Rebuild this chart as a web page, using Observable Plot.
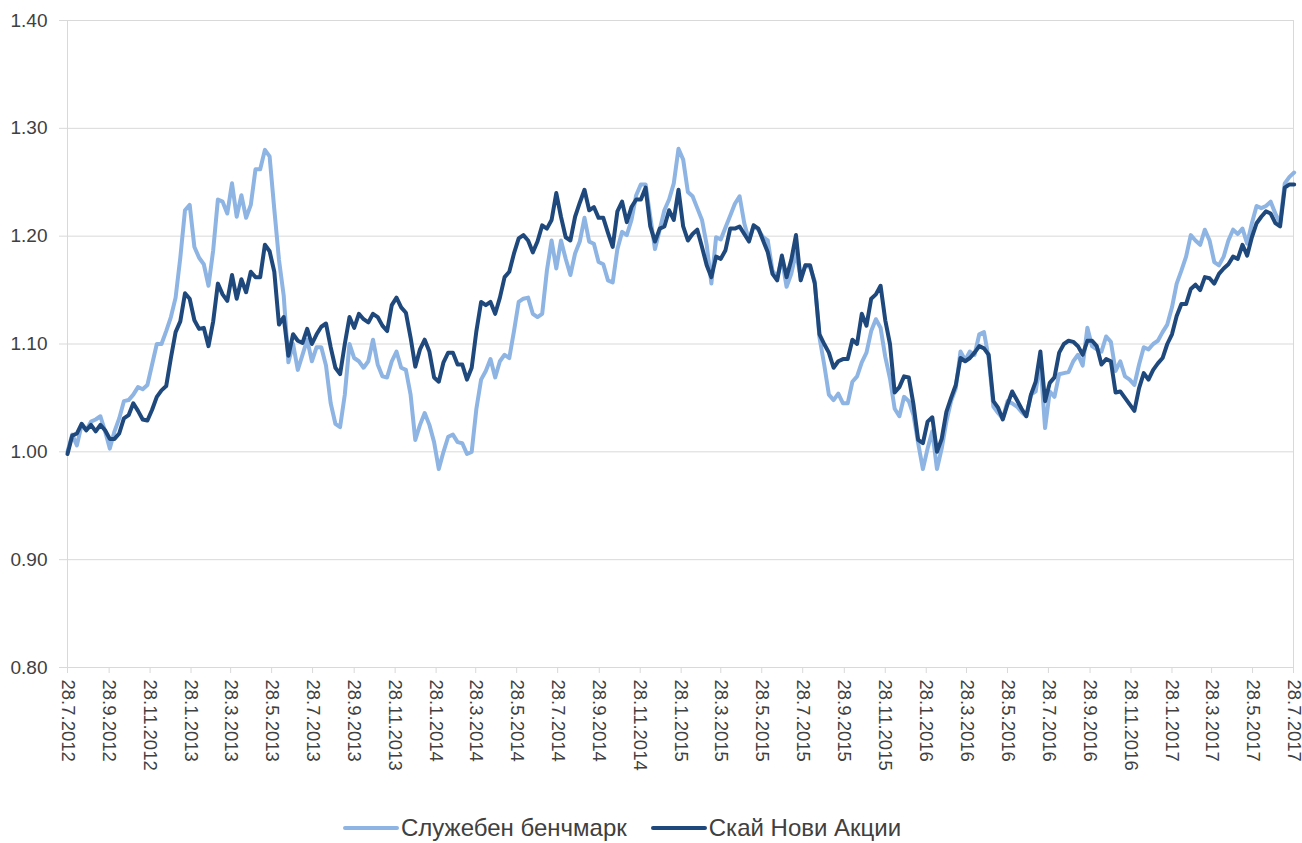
<!DOCTYPE html>
<html><head><meta charset="utf-8">
<script src="https://cdn.jsdelivr.net/npm/d3@7"></script>
<script src="https://cdn.jsdelivr.net/npm/@observablehq/plot@0.6"></script>
<style>
body{margin:0;background:#fff;font-family:"Liberation Sans",Arial,sans-serif;}
#wrap{position:relative;width:1302px;height:843px;overflow:hidden;}
#legend{position:absolute;top:814px;left:343px;height:28px;display:flex;align-items:center;font-size:24px;line-height:28px;color:#404040;white-space:nowrap;}
.sw{display:inline-block;width:56px;height:4.5px;margin-right:2px;border-radius:2px;}
.item{display:flex;align-items:center;margin-right:24px;}
</style></head><body>
<div id="wrap"><div id="chart"></div><div id="legend"></div></div>
<script>
// weekly observations starting 28.7.2012
const startYear = 2012, startMonth = 7, startDay = 28;
const seriesNames = ["Служебен бенчмарк", "Скай Нови Акции"];
const seriesColors = ["#8db4e2", "#1f497d"];

const benchmark = [
1.000,1.016,1.006,1.025,1.020,1.028,1.030,1.033,1.019,1.003,
1.019,1.031,1.047,1.048,1.053,1.060,1.058,1.062,1.081,1.100,
1.100,1.112,1.125,1.143,1.180,1.224,1.229,1.190,1.180,1.174,
1.154,1.187,1.234,1.232,1.221,1.249,1.218,1.238,1.217,1.229,
1.262,1.262,1.280,1.274,1.225,1.178,1.145,1.083,1.100,1.076,
1.090,1.104,1.084,1.097,1.097,1.080,1.045,1.026,1.023,1.053,
1.100,1.087,1.084,1.078,1.084,1.104,1.081,1.070,1.069,1.084,
1.093,1.078,1.076,1.053,1.011,1.025,1.036,1.025,1.009,0.984,
1.000,1.014,1.016,1.009,1.008,0.998,1.000,1.040,1.067,1.075,
1.086,1.069,1.084,1.090,1.087,1.112,1.139,1.142,1.143,1.128,
1.125,1.128,1.168,1.196,1.170,1.196,1.179,1.164,1.184,1.195,
1.217,1.195,1.193,1.176,1.174,1.159,1.157,1.188,1.204,1.201,
1.215,1.238,1.248,1.248,1.218,1.188,1.206,1.224,1.234,1.249,
1.281,1.271,1.241,1.237,1.226,1.215,1.192,1.156,1.199,1.197,
1.208,1.219,1.230,1.237,1.212,1.196,1.210,1.206,1.199,1.196,
1.168,1.162,1.179,1.153,1.165,1.185,1.162,1.173,1.171,1.158,
1.106,1.081,1.053,1.048,1.054,1.045,1.045,1.065,1.070,1.083,
1.092,1.112,1.123,1.115,1.088,1.068,1.040,1.033,1.051,1.047,
1.034,1.008,0.984,1.003,1.019,0.984,1.003,1.028,1.047,1.059,
1.093,1.085,1.093,1.090,1.109,1.111,1.087,1.042,1.036,1.031,
1.047,1.045,1.042,1.037,1.033,1.053,1.056,1.084,1.022,1.056,
1.051,1.072,1.073,1.074,1.084,1.090,1.080,1.115,1.098,1.095,
1.093,1.107,1.102,1.075,1.084,1.070,1.067,1.062,1.081,1.097,
1.095,1.100,1.103,1.111,1.118,1.134,1.156,1.168,1.181,1.201,
1.196,1.192,1.206,1.196,1.176,1.173,1.181,1.196,1.206,1.202,
1.207,1.193,1.212,1.228,1.226,1.228,1.232,1.221,1.212,1.249,
1.255,1.259];

const fund = [
0.998,1.015,1.017,1.026,1.020,1.025,1.019,1.025,1.020,1.012,
1.012,1.017,1.031,1.034,1.045,1.038,1.030,1.029,1.039,1.051,
1.057,1.061,1.087,1.111,1.121,1.147,1.142,1.122,1.114,1.115,
1.098,1.121,1.156,1.146,1.140,1.164,1.142,1.160,1.148,1.167,
1.162,1.162,1.192,1.186,1.167,1.118,1.125,1.089,1.109,1.103,
1.101,1.114,1.100,1.109,1.116,1.119,1.097,1.078,1.072,1.100,
1.125,1.115,1.128,1.123,1.120,1.128,1.125,1.117,1.112,1.136,
1.143,1.134,1.129,1.106,1.079,1.095,1.104,1.093,1.069,1.065,
1.083,1.092,1.092,1.081,1.081,1.067,1.078,1.112,1.139,1.136,
1.139,1.128,1.143,1.162,1.167,1.184,1.198,1.201,1.196,1.185,
1.195,1.210,1.207,1.215,1.240,1.218,1.199,1.196,1.218,1.231,
1.243,1.224,1.227,1.217,1.217,1.203,1.190,1.223,1.232,1.213,
1.227,1.234,1.234,1.245,1.209,1.195,1.207,1.209,1.224,1.215,
1.243,1.209,1.196,1.202,1.206,1.190,1.173,1.162,1.181,1.179,
1.187,1.207,1.207,1.209,1.202,1.195,1.210,1.207,1.196,1.185,
1.165,1.159,1.182,1.162,1.178,1.201,1.159,1.173,1.173,1.156,
1.109,1.100,1.092,1.078,1.084,1.086,1.086,1.104,1.100,1.128,
1.117,1.142,1.146,1.154,1.122,1.100,1.055,1.060,1.070,1.069,
1.044,1.011,1.008,1.028,1.032,1.000,1.012,1.037,1.050,1.062,
1.087,1.084,1.087,1.092,1.098,1.096,1.090,1.047,1.041,1.030,
1.044,1.056,1.048,1.040,1.033,1.053,1.065,1.093,1.047,1.064,
1.069,1.092,1.100,1.103,1.102,1.098,1.090,1.103,1.103,1.098,
1.081,1.086,1.084,1.055,1.056,1.050,1.044,1.038,1.059,1.073,
1.067,1.076,1.082,1.087,1.100,1.109,1.126,1.137,1.137,1.151,
1.155,1.150,1.162,1.161,1.156,1.165,1.170,1.174,1.181,1.179,
1.192,1.182,1.199,1.212,1.218,1.223,1.221,1.212,1.209,1.245,
1.248,1.248];

const xTickLabels = ["28.7.2012","28.9.2012","28.11.2012","28.1.2013","28.3.2013","28.5.2013",
"28.7.2013","28.9.2013","28.11.2013","28.1.2014","28.3.2014","28.5.2014","28.7.2014","28.9.2014",
"28.11.2014","28.1.2015","28.3.2015","28.5.2015","28.7.2015","28.9.2015","28.11.2015","28.1.2016",
"28.3.2016","28.5.2016","28.7.2016","28.9.2016","28.11.2016","28.1.2017","28.3.2017","28.5.2017","28.7.2017"];
const yTicks = [0.8, 0.9, 1.0, 1.1, 1.2, 1.3, 1.4];

const parseLabel = s => { const [d, m, y] = s.split(".").map(Number); return new Date(Date.UTC(y, m - 1, d)); };
const tickDates = xTickLabels.map(parseLabel);
const labelByTime = new Map(tickDates.map((d, i) => [d.getTime(), xTickLabels[i]]));
const weekDate = i => new Date(Date.UTC(startYear, startMonth - 1, startDay + 7 * i));
const benchData = benchmark.map((v, i) => ({date: weekDate(i), value: v}));
const fundData = fund.map((v, i) => ({date: weekDate(i), value: v}));
const domainX = [tickDates[0], tickDates[tickDates.length - 1]];

const grey = "#d9d9d9";
const chart = Plot.plot({
  width: 1302, height: 805,
  marginLeft: 67, marginRight: 9, marginTop: 20, marginBottom: 138,
  style: {fontFamily: "'Liberation Sans', Arial, sans-serif", fontSize: "19px", color: "#404040", background: "#fff"},
  x: {type: "utc", domain: domainX},
  y: {domain: [0.8, 1.4]},
  marks: [
    Plot.gridY(yTicks, {stroke: grey, strokeOpacity: 1}),
    Plot.ruleY([0.8], {stroke: grey}),
    Plot.ruleX(domainX, {stroke: grey}),
    Plot.axisY(yTicks, {tickSize: 8, tickPadding: 12, stroke: grey, fill: "#404040", tickFormat: d3.format(".2f"), label: null}),
    Plot.axisX(tickDates, {tickSize: 6, tickPadding: 6, tickRotate: 90, fontSize: 18.5, stroke: grey, fill: "#404040", tickFormat: d => labelByTime.get(d.getTime()), label: null}),
    Plot.lineY(benchData, {x: "date", y: "value", stroke: seriesColors[0], strokeWidth: 4, strokeLinejoin: "round", strokeLinecap: "round"}),
    Plot.lineY(fundData, {x: "date", y: "value", stroke: seriesColors[1], strokeWidth: 4, strokeLinejoin: "round", strokeLinecap: "round"})
  ]
});
document.getElementById("chart").appendChild(chart);

const legend = document.getElementById("legend");
seriesNames.forEach((name, i) => {
  const item = document.createElement("span");
  item.className = "item";
  const sw = document.createElement("span");
  sw.className = "sw";
  sw.style.background = seriesColors[i];
  item.appendChild(sw);
  item.appendChild(document.createTextNode(name));
  legend.appendChild(item);
});
</script>
</body></html>
